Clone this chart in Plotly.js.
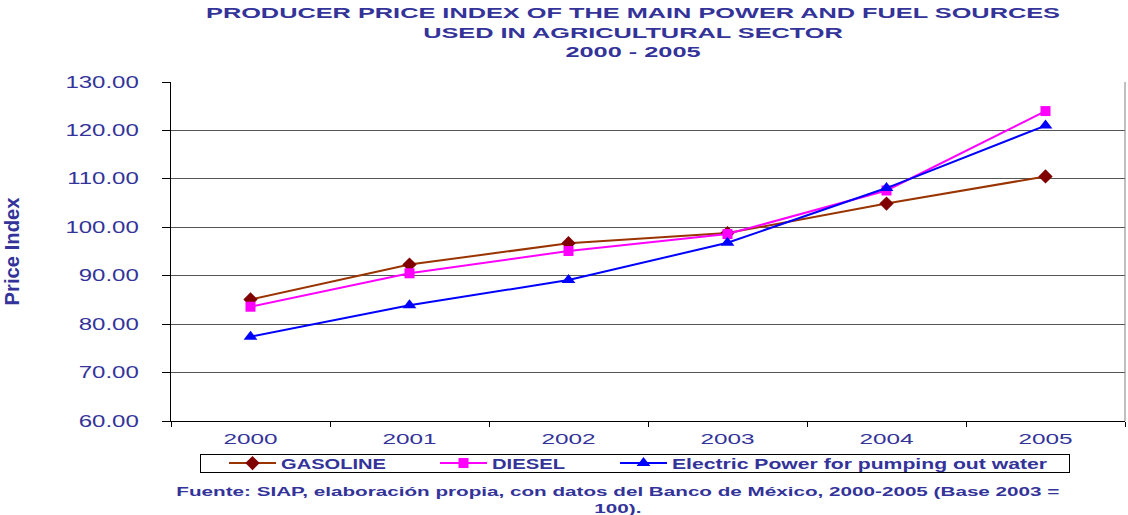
<!DOCTYPE html>
<html>
<head>
<meta charset="utf-8">
<script src="https://cdn.plot.ly/plotly-3.0.1.min.js"></script>
<style>
  html, body { margin: 0; padding: 0; background: #fff; }
  #chart { width: 1128px; height: 515px; }
</style>
</head>
<body>
<div id="chart"></div>
<script>
// ---- data ----
const years = ['2000', '2001', '2002', '2003', '2004', '2005'];
const gasoline = [85.1, 92.3, 96.7, 98.8, 104.9, 110.5];
const diesel = [83.6, 90.5, 95.1, 98.6, 107.6, 124.0];
const electric = [77.4, 83.9, 89.1, 96.8, 108.1, 121.0];
const seriesNames = ['GASOLINE', 'DIESEL', 'Electric Power for pumping out water'];
const yTickVals = [60, 70, 80, 90, 100, 110, 120, 130];

const NAVY = '#333399';
const FONT = 'Liberation Sans, Arial, sans-serif';

const traces = [
  { x: years, y: gasoline, name: seriesNames[0], type: 'scatter', mode: 'lines+markers',
    line: { color: '#993300', width: 2 },
    marker: { symbol: 'diamond', size: 11, color: '#800000' } },
  { x: years, y: diesel, name: seriesNames[1], type: 'scatter', mode: 'lines+markers',
    line: { color: '#FF00FF', width: 2 },
    marker: { symbol: 'square', size: 10, color: '#FF00FF' } },
  { x: years, y: electric, name: seriesNames[2], type: 'scatter', mode: 'lines+markers',
    line: { color: '#0000FF', width: 2 },
    marker: { symbol: 'triangle-up', size: 12, color: '#0000FF' } }
];

const layout = {
  width: 1128, height: 515,
  paper_bgcolor: '#ffffff', plot_bgcolor: '#ffffff',
  margin: { l: 171, r: 3, t: 82, b: 94 },
  font: { family: FONT, color: NAVY },
  title: {
    text: '<b>PRODUCER PRICE INDEX OF THE MAIN POWER AND FUEL SOURCES<br>USED IN AGRICULTURAL SECTOR<br>2000 - 2005</b>',
    font: { family: FONT, size: 15, color: NAVY },
    x: 633 / 1128, xanchor: 'center', xref: 'container',
    y: 1 - 18 / 515, yanchor: 'top', yref: 'container'
  },
  xaxis: {
    type: 'category', range: [-0.5, 5.5], fixedrange: true,
    showgrid: false, showline: true, linecolor: '#000', linewidth: 1,
    ticks: 'outside', tickson: 'boundaries', ticklen: 5, tickcolor: '#000',
    tickfont: { family: FONT, size: 15, color: NAVY },
    ticklabelstandoff: 4
  },
  yaxis: {
    range: [60, 130], tickvals: yTickVals, tickformat: '.2f', fixedrange: true,
    showgrid: true, gridcolor: '#555', gridwidth: 1,
    showline: true, linecolor: '#000', linewidth: 1,
    ticks: 'outside', ticklen: 8, tickcolor: '#000',
    tickfont: { family: FONT, size: 16, color: NAVY },
    ticklabelstandoff: 20, zeroline: false,
    title: { text: '<b>Price Index</b>', font: { family: FONT, size: 20, color: NAVY }, standoff: 64 }
  },
  showlegend: true,
  legend: {
    orientation: 'h', x: (200 - 171) / 954, xanchor: 'left',
    y: (421 - 454) / 339, yanchor: 'top',
    bordercolor: '#000', borderwidth: 1, bgcolor: '#fff',
    font: { family: FONT, size: 14, color: NAVY, weight: 'bold' },
    itemwidth: 47, entrywidth: 285, entrywidthmode: 'pixels', tracegroupgap: 0
  },
  shapes: [
    { type: 'line', xref: 'paper', yref: 'paper', x0: 1, x1: 1, y0: 0, y1: 1,
      line: { color: '#808080', width: 1 } }
  ],
  annotations: [
    { text: '<b>Fuente: SIAP, elaboración propia, con datos del Banco de México, 2000-2005 (Base 2003 =<br>100).</b>',
      xref: 'paper', yref: 'paper', x: (618 - 171) / 954, y: (421 - 482) / 339,
      xanchor: 'center', yanchor: 'top', showarrow: false, align: 'center',
      font: { family: FONT, size: 13, color: NAVY } }
  ]
};

function stretch(el, factor) {
  const w = el.getComputedTextLength();
  if (w > 0) {
    el.setAttribute('textLength', (w * factor).toFixed(1));
    el.setAttribute('lengthAdjust', 'spacingAndGlyphs');
  }
}
function stretchLines(textEl, target) {
  const lines = textEl.querySelectorAll('tspan.line');
  if (!lines.length) { stretch(textEl, target / textEl.getComputedTextLength()); return; }
  const f = target / lines[0].getComputedTextLength();
  lines.forEach(l => stretch(l, f));
}

const gd = document.getElementById('chart');
Plotly.newPlot(gd, traces, layout, { staticPlot: true, displayModeBar: false }).then(() => {
  // horizontally stretched look of the original
  gd.querySelectorAll('.ytick text').forEach(t => stretch(t, 1.5));
  gd.querySelectorAll('.xtick text').forEach(t => stretch(t, 1.62));
  const title = gd.querySelector('.gtitle');
  if (title) stretchLines(title, 854);
  const ann = gd.querySelector('.annotation-text');
  if (ann) stretchLines(ann, 883);
  const yt = gd.querySelector('.ytitle');
  if (yt) { yt.setAttribute('textLength', '108'); yt.setAttribute('lengthAdjust', 'spacingAndGlyphs'); }

  // legend layout
  const sb = gd.querySelector('.legend .scrollbox');
  if (sb) sb.removeAttribute('clip-path');
  const textTargets = [281, 492, 672];
  const textWidths = [105, 73, 375];
  gd.querySelectorAll('.legend .traces').forEach((t, i) => {
    const txt = t.querySelector('.legendtext');
    txt.setAttribute('textLength', textWidths[i]);
    txt.setAttribute('lengthAdjust', 'spacingAndGlyphs');
    const r = txt.getBoundingClientRect();
    const m = /translate\(([-\d.e]+)[ ,]+([-\d.e]+)\)/.exec(t.getAttribute('transform'));
    if (m) {
      const nx = parseFloat(m[1]) + (textTargets[i] - r.left);
      const ny = parseFloat(m[2]) + (463.5 - (r.top + r.height / 2));
      t.setAttribute('transform', 'translate(' + nx + ',' + ny + ')');
    }
  });
  const bg = gd.querySelector('.legend .bg');
  if (bg) {
    const r = bg.getBoundingClientRect();
    bg.setAttribute('x', parseFloat(bg.getAttribute('x') || 0) + (200.5 - r.left));
    bg.setAttribute('y', parseFloat(bg.getAttribute('y') || 0) + (454.5 - r.top));
    bg.setAttribute('width', 869);
    bg.setAttribute('height', 18);
  }
});
</script>
</body>
</html>
